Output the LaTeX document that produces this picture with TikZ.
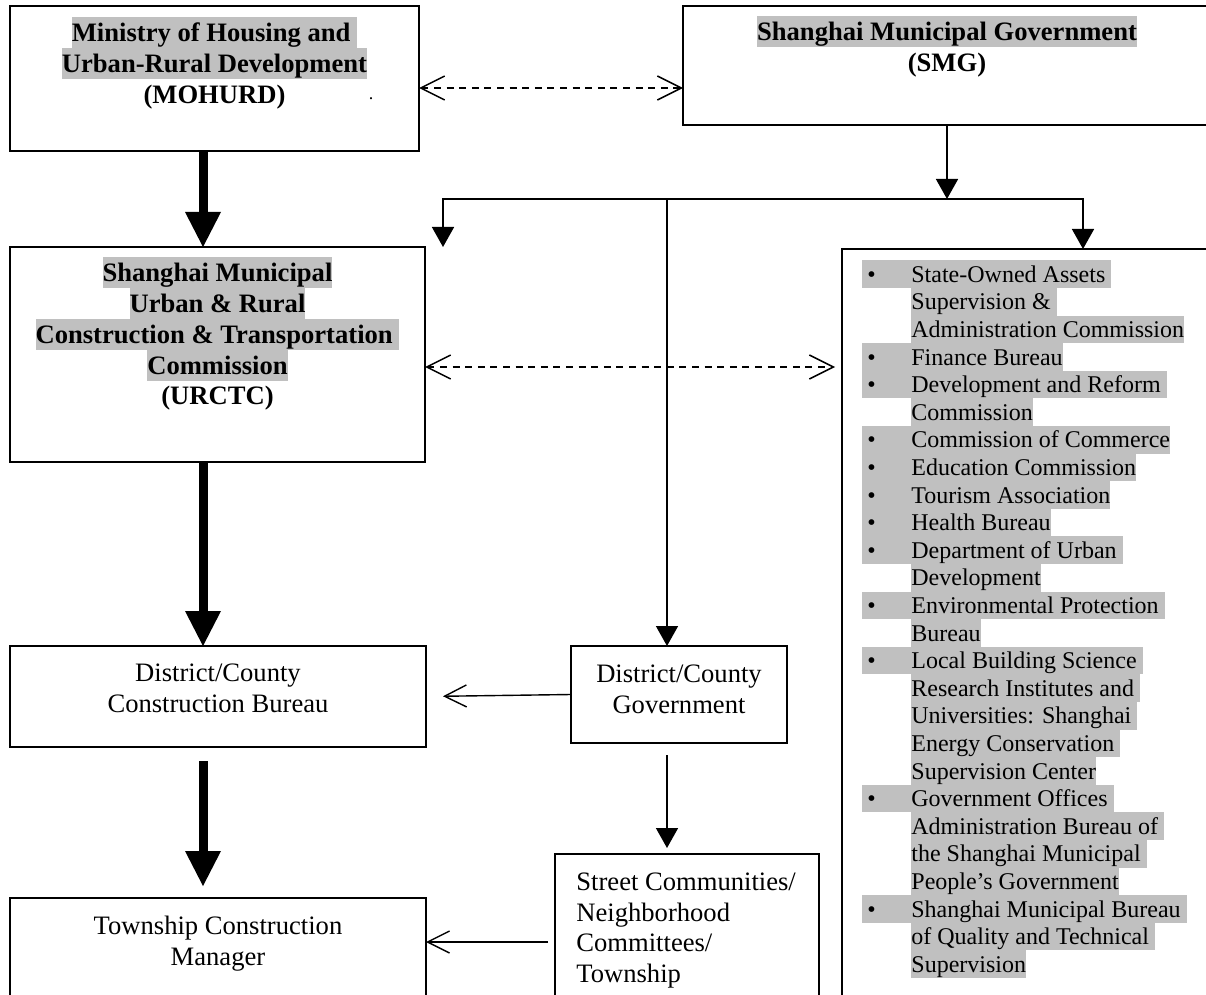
\documentclass[tikz,border=0pt]{standalone}
\usepackage{fontspec}
\setmainfont{Liberation Serif}
\usepackage{xcolor}
\definecolor{hlgray}{HTML}{C0C0C0}
\usetikzlibrary{arrows.meta,positioning}
\newcommand{\sst}{\rule[-0.21\baselineskip]{0pt}{\baselineskip}}
\newcommand{\hl}[1]{{\setlength{\fboxsep}{0pt}\colorbox{hlgray}{\sst#1}}}
\newcommand{\itm}[1]{\hl{\makebox[24.5pt][l]{\hspace{2.5pt}\textbullet}#1}}
\newcommand{\cnt}[1]{\makebox[24.5pt]{}\hl{#1}}
\tikzset{
  >={Triangle[width=11pt,length=10pt]},
  box/.style={draw,line width=1pt,inner sep=0pt,outer sep=0pt,anchor=north west},
  hdr/.style={font=\fontsize{13.3}{15.4}\selectfont\bfseries,align=center,inner sep=0pt},
  txt/.style={font=\fontsize{13.3}{15.4}\selectfont,align=center,inner sep=0pt},
  bigarr/.style={-{Triangle[width=18pt,length=17.5pt,line width=0pt]},line width=4.5pt},
  arr/.style={->,line width=0.8pt},
  barb/.style={-{Straight Barb[length=11pt,width=11pt]},line width=0.7pt},
  dbarb/.style={{Straight Barb[length=12pt,width=12pt]}-{Straight Barb[length=12pt,width=12pt]},line width=0.75pt,dash pattern=on 3.5pt off 2.8pt},
}
\begin{document}
\begin{tikzpicture}[x=0.5pt,y=-0.5pt]
\useasboundingbox (0,0) rectangle (1206,995);
\clip (0,0) rectangle (1206,995);
% left column
\node[box,minimum width=204.5pt,minimum height=72.5pt] (mohurd) at (10,6) {};
\node[box,minimum width=207.5pt,minimum height=107.5pt,below=48pt of mohurd.south west,anchor=north west] (urctc) {};
\node[box,minimum width=208pt,minimum height=50.5pt,below=92pt of urctc.south west,anchor=north west] (dccb) {};
\node[box,minimum width=208pt,minimum height=60pt,below=75.5pt of dccb.south west,anchor=north west] (tcm) {};
% middle and right
\node[box,minimum width=264pt,minimum height=59.5pt,right=132pt of mohurd.north east,anchor=north west] (smg) {};
\node[box,minimum width=185pt,minimum height=380pt,right=208.5pt of urctc.north east,anchor=north west,yshift=-1pt] (list) {};
\node[box,minimum width=108pt,minimum height=48.5pt,right=72.5pt of dccb.north east,anchor=north west] (dcg) {};
\node[box,minimum width=132pt,minimum height=88pt,below=55.5pt of dcg.south west,anchor=north west,xshift=-8pt] (street) {};
% texts
\node[hdr,below=5.5pt of mohurd.north] (mohurd-t) {\hl{Ministry of Housing and\ }\\\hl{Urban-Rural Development}\\(MOHURD)};
\node[font=\fontsize{9}{10}\selectfont,inner sep=0pt,anchor=base] (mohurd-dot) at (371,100) {.};
\node[hdr,below=5pt of smg.north] (smg-t) {\hl{Shanghai Municipal Government}\\(SMG)};
\node[hdr,below=5pt of urctc.north] (urctc-t) {\hl{Shanghai Municipal}\\\hl{Urban \& Rural}\\\hl{Construction \& Transportation\ }\\\hl{Commission}\\(URCTC)};
\node[txt,below=5.4pt of dccb.north] (dccb-t) {\sst District/County\\Construction Bureau};
\node[txt,below=5.8pt of tcm.north] (tcm-t) {\sst Township Construction\\Manager};
\node[txt,below=6pt of dcg.north] (dcg-t) {\sst District/County\\Government};
\node[txt,align=left,anchor=north west] (street-t) at ([xshift=10.5pt,yshift=-5.8pt]street.north west) {\sst Street Communities/\\Neighborhood\\Committees/\\Township};
\node[font=\fontsize{12}{13.8}\selectfont,align=left,inner sep=0pt,anchor=north west] (list-t) at ([xshift=10pt,yshift=-5.5pt]list.north west) {%
\itm{State-Owned Assets\ }\\
\cnt{Supervision \&\ }\\
\cnt{Administration Commission}\\
\itm{Finance Bureau}\\
\itm{Development and Reform\ }\\
\cnt{Commission}\\
\itm{Commission of Commerce}\\
\itm{Education Commission}\\
\itm{Tourism Association}\\
\itm{Health Bureau}\\
\itm{Department of Urban\ }\\
\cnt{Development}\\
\itm{Environmental Protection\ }\\
\cnt{Bureau}\\
\itm{Local Building Science\ }\\
\cnt{Research Institutes and\ }\\
\cnt{Universities: Shanghai\ }\\
\cnt{Energy Conservation\ }\\
\cnt{Supervision Center}\\
\itm{Government Offices\ }\\
\cnt{Administration Bureau of\ }\\
\cnt{the Shanghai Municipal\ }\\
\cnt{People's Government}\\
\itm{Shanghai Municipal Bureau\ }\\
\cnt{of Quality and Technical\ }\\
\cnt{Supervision}};
% connectors
\coordinate (spine) at (203,0);
\coordinate (bus) at (947,199);
\coordinate (busL) at (443,199);
\coordinate (busM) at (667,199);
\coordinate (busR) at (1083,199);
\draw[bigarr] (mohurd.south -| spine) -- (urctc.north -| spine);
\draw[bigarr] (urctc.south -| spine) -- (dccb.north -| spine);
\draw[bigarr,shorten <=7pt,shorten >=6pt] (dccb.south -| spine) -- (tcm.north -| spine);
\draw[dbarb] ([yshift=-4.75pt]mohurd.east) -- ([yshift=-4.75pt]mohurd.east -| smg.west);
\draw[dbarb,shorten >=3.5pt] ([yshift=-6.25pt]urctc.east) -- ([yshift=-6.25pt]urctc.east -| list.west);
\draw[arr] (smg.south) -- (bus);
\draw[arr,<->] (busL |- urctc.north) -- (busL) -- (busR) -- (busR |- list.north);
\draw[arr] (busM) -- (busM |- dcg.north);
\draw[arr,shorten <=6pt,shorten >=3pt] (dcg.south -| busM) -- (street.north -| busM);
\draw[barb,shorten >=8.5pt] (dcg.west) -- (dccb.east);
\draw[barb,shorten <=3.5pt] (street.west) -- (street.west -| tcm.east);
\end{tikzpicture}
\end{document}
